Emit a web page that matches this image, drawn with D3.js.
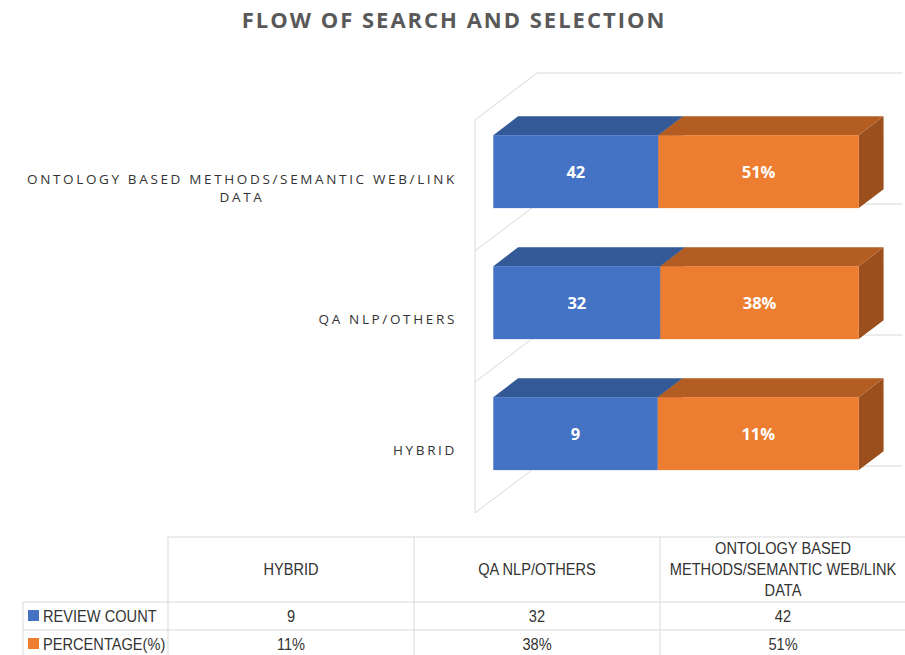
<!DOCTYPE html>
<html>
<head>
<meta charset="utf-8">
<script src="https://cdn.jsdelivr.net/npm/d3@7"></script>
<style>
  html, body { margin: 0; padding: 0; background: #ffffff; }
  svg { display: block; }
</style>
</head>
<body>
<div id="chart"></div>
<script>
// ---------- data ----------
const title = "FLOW OF SEARCH AND SELECTION";
const categories = ["HYBRID", "QA NLP/OTHERS", "ONTOLOGY BASED METHODS/SEMANTIC WEB/LINK DATA"];
const seriesNames = ["REVIEW COUNT", "PERCENTAGE(%)"];
const reviewCount = [9, 32, 42];
const percentage = [11, 38, 51];
const seriesColors = ["#4472C4", "#ED7D31"];
const topColors = ["#335A96", "#B35D22"];
const sideColors = ["#2D4F86", "#9B4F1C"];

// ---------- setup ----------
const W = 905, H = 655;
const svg = d3.select("#chart").append("svg").attr("width", W).attr("height", H);

const rows = categories.map((c, i) => ({ cat: c, review: reviewCount[i], pct: percentage[i] }));
const labelFmt = [d => String(d), d => d + "%"];
const keys = ["review", "pct"];

const stack = d3.stack().keys(keys).offset(d3.stackOffsetExpand);
const stacked = stack(rows);

// front plane scales
const x = d3.scaleLinear().domain([0, 1]).range([475, 840.5]);
const order = categories.slice().reverse();
const yGrid = d3.scaleBand().domain(order).range([120, 513]).padding(0);
const y = d3.scaleBand().domain(order).range([120, 513]).paddingInner(0.443).paddingOuter(0.2215);

// depth (oblique projection)
const D = { dx: 62, dy: -47 };
const z0 = 0.295, z1 = 0.695;

// ---------- title ----------
svg.append("text")
  .attr("x", 454).attr("y", 28)
  .attr("text-anchor", "middle")
  .attr("font-family", "'Open Sans', sans-serif")
  .attr("font-weight", "bold")
  .attr("font-size", 22)
  .attr("letter-spacing", 2)
  .attr("fill", "#595959")
  .text(title);

// ---------- walls / gridlines ----------
const grid = svg.append("g").attr("stroke", "#d9d9d9").attr("stroke-width", 1).attr("fill", "none");
const bounds = order.map(c => yGrid(c)).concat([yGrid(order[order.length - 1]) + yGrid.bandwidth()]);
bounds.forEach(b => {
  grid.append("line")
    .attr("x1", x(0) + D.dx).attr("x2", x(1) + D.dx)
    .attr("y1", b + D.dy).attr("y2", b + D.dy);
  grid.append("line")
    .attr("x1", x(0)).attr("x2", x(0) + D.dx)
    .attr("y1", b).attr("y2", b + D.dy);
});
grid.append("line")
  .attr("x1", x(0)).attr("x2", x(0))
  .attr("y1", bounds[0]).attr("y2", bounds[bounds.length - 1]);

// ---------- bars ----------
const bars = svg.append("g");
const bdx = D.dx * (z1 - z0), bdy = D.dy * (z1 - z0);
rows.forEach((row, i) => {
  stacked.forEach((s, si) => {
    const d = s[i];
    const x0 = x(d[0]) + D.dx * z0;
    const x1 = x(d[1]) + D.dx * z0;
    const yt = y(row.cat) + D.dy * z0;
    const yb = yt + y.bandwidth();
    bars.append("polygon")
      .attr("points", [[x1, yt], [x1 + bdx, yt + bdy], [x1 + bdx, yb + bdy], [x1, yb]].map(p => p.join(",")).join(" "))
      .attr("fill", sideColors[si]);
    bars.append("polygon")
      .attr("points", [[x0, yt], [x0 + bdx, yt + bdy], [x1 + bdx, yt + bdy], [x1, yt]].map(p => p.join(",")).join(" "))
      .attr("fill", topColors[si]);
    bars.append("rect")
      .attr("x", x0).attr("y", yt)
      .attr("width", x1 - x0).attr("height", yb - yt)
      .attr("fill", seriesColors[si]);
    bars.append("text")
      .attr("x", (x0 + x1) / 2).attr("y", (yt + yb) / 2)
      .attr("dy", "0.36em")
      .attr("text-anchor", "middle")
      .attr("font-family", "'Open Sans', sans-serif")
      .attr("font-weight", "bold")
      .attr("font-size", 16.5)
      .attr("fill", "#ffffff")
      .text(labelFmt[si](row[keys[si]]));
  });
});

// ---------- wrap helper ----------
function wrapWords(text, maxW, font, spacing) {
  const tmp = svg.append("text").attr("font-family", font.family).attr("font-size", font.size)
    .attr("letter-spacing", spacing || 0).attr("visibility", "hidden");
  const words = text.split(" ");
  const lines = [];
  let cur = "";
  words.forEach(w => {
    const test = cur ? cur + " " + w : w;
    tmp.text(test);
    if (tmp.node().getComputedTextLength() > maxW && cur) {
      lines.push(cur);
      cur = w;
    } else cur = test;
  });
  if (cur) lines.push(cur);
  tmp.remove();
  return lines;
}

// ---------- category axis labels ----------
const axFont = { family: "'Open Sans', sans-serif", size: 13.5 };
const axSpacing = 2.65;
const axG = svg.append("g");
categories.forEach(c => {
  const lines = wrapWords(c, 445, axFont, axSpacing);
  const lh = 18;
  const cy = yGrid(c) + yGrid.bandwidth() / 2 + 3;
  const t = axG.append("text")
    .attr("font-family", axFont.family).attr("font-size", axFont.size)
    .attr("letter-spacing", axSpacing)
    .attr("fill", "#333333")
    .attr("text-anchor", "middle");
  const spans = lines.map(l => t.append("tspan").text(l));
  const widths = spans.map(s => s.node().getComputedTextLength());
  const maxW = d3.max(widths);
  const cx = 457 - maxW / 2;
  spans.forEach((s, k) => {
    s.attr("x", cx).attr("y", cy + (k - (lines.length - 1) / 2) * lh).attr("dy", "0.35em");
  });
});

// ---------- data table ----------
const tFont = { family: "'Liberation Sans', Arial, sans-serif", size: 17 };
const sx = 0.86; // condensed rendering
const tCol = d3.scaleBand().domain(categories).range([168, 906]);
const tableTop = 537, headerBottom = 602, rowH = 28;
const tbl = svg.append("g");
const lineColor = "#d9d9d9";
tbl.append("line").attr("x1", 168).attr("x2", W).attr("y1", tableTop).attr("y2", tableTop).attr("stroke", lineColor);
[0, 1, 2].forEach(r => {
  const yy = headerBottom + r * rowH;
  tbl.append("line").attr("x1", 23).attr("x2", W).attr("y1", yy).attr("y2", yy).attr("stroke", lineColor);
});
tbl.append("line").attr("x1", 23).attr("x2", 23).attr("y1", headerBottom).attr("y2", headerBottom + 2 * rowH).attr("stroke", lineColor);
categories.forEach(c => {
  tbl.append("line").attr("x1", tCol(c)).attr("x2", tCol(c)).attr("y1", tableTop).attr("y2", headerBottom + 2 * rowH).attr("stroke", lineColor);
});

function tText(xPos, yPos, str, anchor) {
  return tbl.append("g").attr("transform", `translate(${xPos},${yPos}) scale(${sx},1)`)
    .append("text").attr("x", 0).attr("y", 0).attr("dy", "0.35em")
    .attr("text-anchor", anchor || "middle")
    .attr("font-family", tFont.family).attr("font-size", tFont.size).attr("fill", "#333333")
    .text(str);
}

categories.forEach(c => {
  const lines = wrapWords(c, 246 / sx, tFont, 0);
  const lh = 21;
  const cy = (tableTop + headerBottom) / 2;
  lines.forEach((l, k) => {
    tText(tCol(c) + tCol.bandwidth() / 2, cy + (k - (lines.length - 1) / 2) * lh, l, "middle");
  });
});
const seriesVals = [reviewCount, percentage];
seriesNames.forEach((name, si) => {
  const cy = headerBottom + si * rowH + rowH / 2;
  tbl.append("rect").attr("x", 28).attr("y", cy - 6).attr("width", 11).attr("height", 11).attr("fill", seriesColors[si]);
  tText(43, cy, name, "start");
  categories.forEach((c, ci) => {
    tText(tCol(c) + tCol.bandwidth() / 2, cy, labelFmt[si](seriesVals[si][ci]), "middle");
  });
});
</script>
</body>
</html>
